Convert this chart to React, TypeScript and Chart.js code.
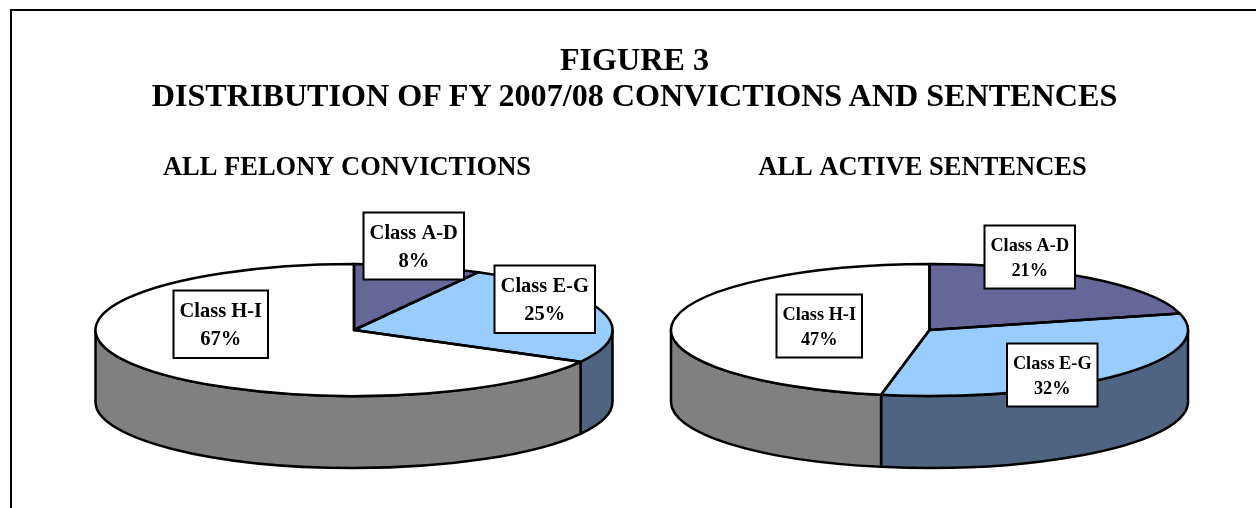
import React, { useEffect, useRef } from "react";
import { Chart, registerables } from "chart.js";

Chart.register(...registerables);

const FONT = '"Liberation Serif", "Times New Roman", serif';

const figureTitle = "FIGURE 3";
const figureSubtitle = "DISTRIBUTION OF FY 2007/08 CONVICTIONS AND SENTENCES";

const categories = ["Class A-D", "Class E-G", "Class H-I"];
const convictionsShare = [8, 25, 67];
const activeShare = [21, 32, 47];
const convictionsTitle = "ALL FELONY CONVICTIONS";
const activeTitle = "ALL ACTIVE SENTENCES";

const topColors = ["#666699", "#99CCFF", "#FFFFFF"];
const sideColors = ["#4D4D73", "#4E6480", "#808080"];

const RX = 258.5;
const RY = 66;
const DEPTH = 72;
const LINE = 2.5;
const PIE_SHIFT = 7;

type Box = { left: number; top: number; right: number; bottom: number };

const leftBoxes: Box[] = [
  { left: 363.5, top: 212.5, right: 464, bottom: 279.5 },
  { left: 494.5, top: 265.5, right: 595, bottom: 333 },
  { left: 173.5, top: 290.5, right: 268, bottom: 358 },
];
const rightBoxes: Box[] = [
  { left: 344.5, top: 225.5, right: 435, bottom: 288.5 },
  { left: 367, top: 343.5, right: 457.5, bottom: 406.5 },
  { left: 136.5, top: 294.5, right: 222, bottom: 357.5 },
];

function pie3dPlugin(boxes: Box[], fontSize: number) {
  return {
    id: "pie3d",
    beforeDatasetsDraw(chart: any) {
      const { ctx } = chart;
      const arcs = chart.getDatasetMeta(0).data;
      const k = arcs[0].getProps(["x", "y", "outerRadius"], true);
      const cx = k.x + PIE_SHIFT;
      // Extruded side walls (only the front half of the rim is visible).
      arcs.forEach((arc: any, i: number) => {
        const p = arc.getProps(["startAngle", "endAngle"], true);
        const a = Math.max(p.startAngle, 0);
        const b = Math.min(p.endAngle, Math.PI);
        if (b <= a) return;
        ctx.save();
        ctx.beginPath();
        ctx.ellipse(cx, k.y, RX, RY, 0, a, b);
        ctx.ellipse(cx, k.y + DEPTH, RX, RY, 0, b, a, true);
        ctx.closePath();
        ctx.fillStyle = sideColors[i];
        ctx.fill();
        ctx.lineWidth = LINE;
        ctx.lineJoin = "round";
        ctx.strokeStyle = "#000";
        ctx.stroke();
        ctx.restore();
      });
      // Squash the library's circular slices into the tilted ellipse.
      ctx.save();
      ctx.translate(cx, k.y);
      ctx.scale(RX / k.outerRadius, RY / k.outerRadius);
      ctx.translate(-k.x, -k.y);
    },
    afterDatasetsDraw(chart: any) {
      const { ctx } = chart;
      ctx.restore();
      const arcs = chart.getDatasetMeta(0).data;
      const values = chart.data.datasets[0].data;
      const labels = chart.data.labels;
      arcs.forEach((arc: any) => {
        const p = arc.getProps(["x", "y", "startAngle", "endAngle"], true);
        const px = p.x + PIE_SHIFT;
        ctx.save();
        ctx.beginPath();
        ctx.moveTo(px, p.y);
        ctx.ellipse(px, p.y, RX, RY, 0, p.startAngle, p.endAngle);
        ctx.closePath();
        ctx.lineWidth = LINE;
        ctx.lineJoin = "round";
        ctx.strokeStyle = "#000";
        ctx.stroke();
        ctx.restore();
      });
      arcs.forEach((_: any, i: number) => {
        const b = boxes[i];
        const w = b.right - b.left;
        const h = b.bottom - b.top;
        ctx.save();
        ctx.fillStyle = "#fff";
        ctx.fillRect(b.left, b.top, w, h);
        ctx.lineWidth = 2;
        ctx.strokeStyle = "#000";
        ctx.strokeRect(b.left, b.top, w, h);
        ctx.fillStyle = "#000";
        ctx.font = `bold ${fontSize}px ${FONT}`;
        ctx.textAlign = "center";
        ctx.textBaseline = "middle";
        const cx = b.left + w / 2;
        const cy = b.top + h / 2 + fontSize * 0.09;
        const gap = fontSize * 0.68;
        ctx.fillText(labels[i], cx, cy - gap);
        ctx.fillText(`${values[i]}%`, cx, cy + gap);
        ctx.restore();
      });
    },
  };
}

function makeConfig(title: string, values: number[], boxes: Box[], fontSize: number): any {
  return {
    type: "pie",
    data: {
      labels: categories,
      datasets: [
        {
          data: values,
          backgroundColor: topColors,
          borderWidth: 0,
          clip: false,
        },
      ],
    },
    options: {
      responsive: false,
      animation: false,
      layout: { padding: { left: 0, right: 0, top: 0, bottom: 31.8 } },
      plugins: {
        legend: { display: false },
        tooltip: { enabled: false },
        title: {
          display: true,
          text: title,
          color: "#000",
          align: "center",
          font: { family: FONT, size: 26.5, weight: "bold", lineHeight: 1.2 },
          padding: { top: 152, bottom: 0 },
        },
      },
    },
    plugins: [pie3dPlugin(boxes, fontSize)],
  };
}

export default function App() {
  const leftRef = useRef<HTMLCanvasElement>(null);
  const rightRef = useRef<HTMLCanvasElement>(null);

  useEffect(() => {
    document.body.style.margin = "0";
    const a = new Chart(leftRef.current!, makeConfig(convictionsTitle, convictionsShare, leftBoxes, 20.5));
    const b = new Chart(rightRef.current!, makeConfig(activeTitle, activeShare, rightBoxes, 18.3));
    return () => {
      a.destroy();
      b.destroy();
    };
  }, []);

  return (
    <div
      style={{
        position: "relative",
        width: 1256,
        height: 508,
        overflow: "hidden",
        background: "#fff",
      }}
    >
      <div
        style={{
          position: "absolute",
          left: 10,
          top: 9,
          width: 1246,
          height: 520,
          borderLeft: "2px solid #000",
          borderTop: "2px solid #000",
          boxSizing: "border-box",
        }}
      />
      <canvas
        ref={leftRef}
        width={694}
        height={508}
        style={{ position: "absolute", left: 0, top: 0, width: 694, height: 508 }}
      />
      <canvas
        ref={rightRef}
        width={565}
        height={508}
        style={{ position: "absolute", left: 640, top: 0, width: 565, height: 508 }}
      />
      <div
        style={{
          position: "absolute",
          left: 0,
          top: 41,
          width: 1269,
          textAlign: "center",
          fontFamily: FONT,
          fontWeight: "bold",
          fontSize: 32.15,
          lineHeight: "36px",
          color: "#000",
          whiteSpace: "nowrap",
        }}
      >
        <div>{figureTitle}</div>
        <div>{figureSubtitle}</div>
      </div>
    </div>
  );
}
